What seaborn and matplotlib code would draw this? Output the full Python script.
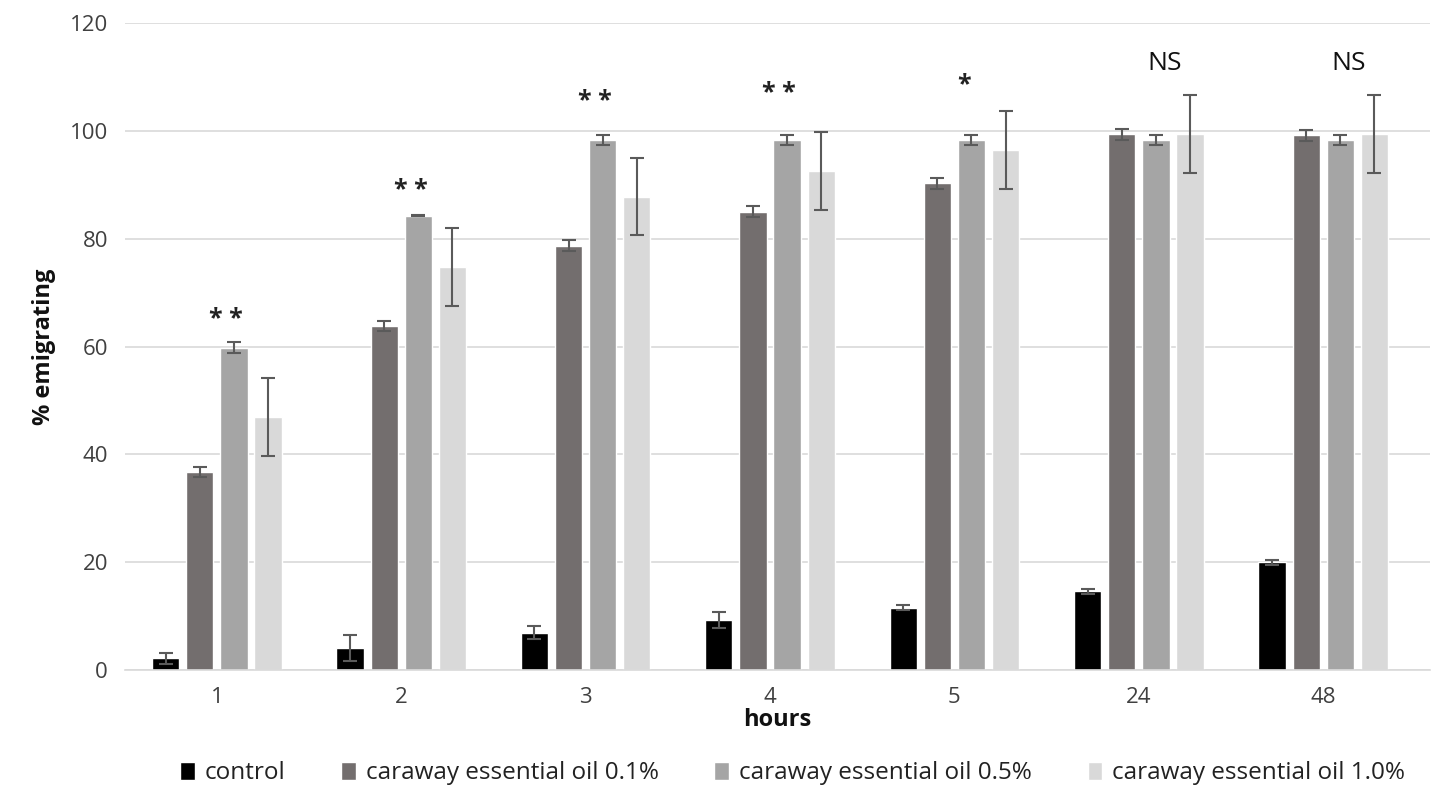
import matplotlib
matplotlib.use("Agg")
import matplotlib.pyplot as plt
import seaborn as sns
import pandas as pd
import numpy as np

hours = ["1", "2", "3", "4", "5", "24", "48"]
series = ["control", "caraway essential oil 0.1%", "caraway essential oil 0.5%", "caraway essential oil 1.0%"]
control = [2.2, 4.1, 6.9, 9.3, 11.6, 14.6, 20.0]
oil_01 = [36.7, 63.8, 78.7, 85.0, 90.3, 99.4, 99.2]
oil_05 = [59.8, 84.3, 98.3, 98.3, 98.3, 98.3, 98.3]
oil_10 = [47.0, 74.7, 87.8, 92.6, 96.4, 99.4, 99.4]
err_control = [1.0, 2.4, 1.2, 1.5, 0.5, 0.5, 0.5]
err_01 = [0.9, 1.0, 1.0, 1.0, 1.0, 1.0, 1.0]
err_05 = [1.0, 0.1, 1.0, 1.0, 1.0, 1.0, 1.0]
err_10 = [7.2, 7.2, 7.2, 7.2, 7.2, 7.2, 7.2]
annotations = ["* *", "* *", "* *", "* *", "*", "NS", "NS"]
annot_y = [65, 89, 105.5, 107, 108.5, 112.5, 112.5]
colors = ["#000000", "#736e6e", "#a5a5a5", "#d9d9d9"]

values = [control, oil_01, oil_05, oil_10]
errors = [err_control, err_01, err_05, err_10]
rows = []
for s, vals in zip(series, values):
    for h, v in zip(hours, vals):
        rows.append({"hours": h, "series": s, "value": v})
df = pd.DataFrame(rows)

sns.set_theme(style="white")
plt.rcParams['font.family'] = ['Open Sans', 'DejaVu Sans']

fig = plt.figure(figsize=(14.49, 7.94), dpi=100)
ax = fig.add_axes([0.086, 0.156, 0.901, 0.815])

sns.barplot(data=df, x="hours", y="value", hue="series", order=hours,
            hue_order=series, palette=colors, errorbar=None,
            width=0.74, gap=0.2, saturation=1, ax=ax, legend=True)

for cont, errs in zip(ax.containers, errors):
    xs = [b.get_x() + b.get_width() / 2 for b in cont]
    ys = [b.get_height() for b in cont]
    ax.errorbar(xs, ys, yerr=errs, fmt="none", ecolor="#5a5a5a",
                elinewidth=1.5, capsize=5, capthick=1.5, zorder=3)

for i, (t, y) in enumerate(zip(annotations, annot_y)):
    if t == "NS":
        ax.text(i + 0.14, y, t, ha="center", va="center", fontsize=19, color="#111111")
    else:
        ax.text(i + 0.05, y, t, ha="center", va="center", fontsize=18,
                fontweight="bold", color="#222222")

ax.set_ylim(0, 120)
ax.set_xlim(-0.5, 6.58)
ax.set_yticks(range(0, 121, 20))
ax.yaxis.grid(True, color="#d9d9d9", linewidth=1.2)
ax.set_axisbelow(True)
for sp in ["top", "right", "left"]:
    ax.spines[sp].set_visible(False)
ax.spines["bottom"].set_color("#d9d9d9")
ax.spines["bottom"].set_linewidth(1.2)
ax.tick_params(axis="both", length=0, labelsize=16, colors="#404040", pad=12)
ax.set_xlabel("hours", fontsize=17, fontweight="bold", color="#111111", labelpad=0)
ax.set_ylabel("% emigrating", fontsize=17, fontweight="bold", color="#111111", labelpad=10)

handles, labels = ax.get_legend_handles_labels()
ax.legend_.remove()
fig.legend(handles, labels, loc="center", bbox_to_anchor=(0.547, 0.026), ncol=4,
           frameon=False, fontsize=17.5, handlelength=0.6, handleheight=0.8,
           handletextpad=0.4, columnspacing=2.3, labelcolor="#222222")

fig.savefig("out.png", dpi=100)
